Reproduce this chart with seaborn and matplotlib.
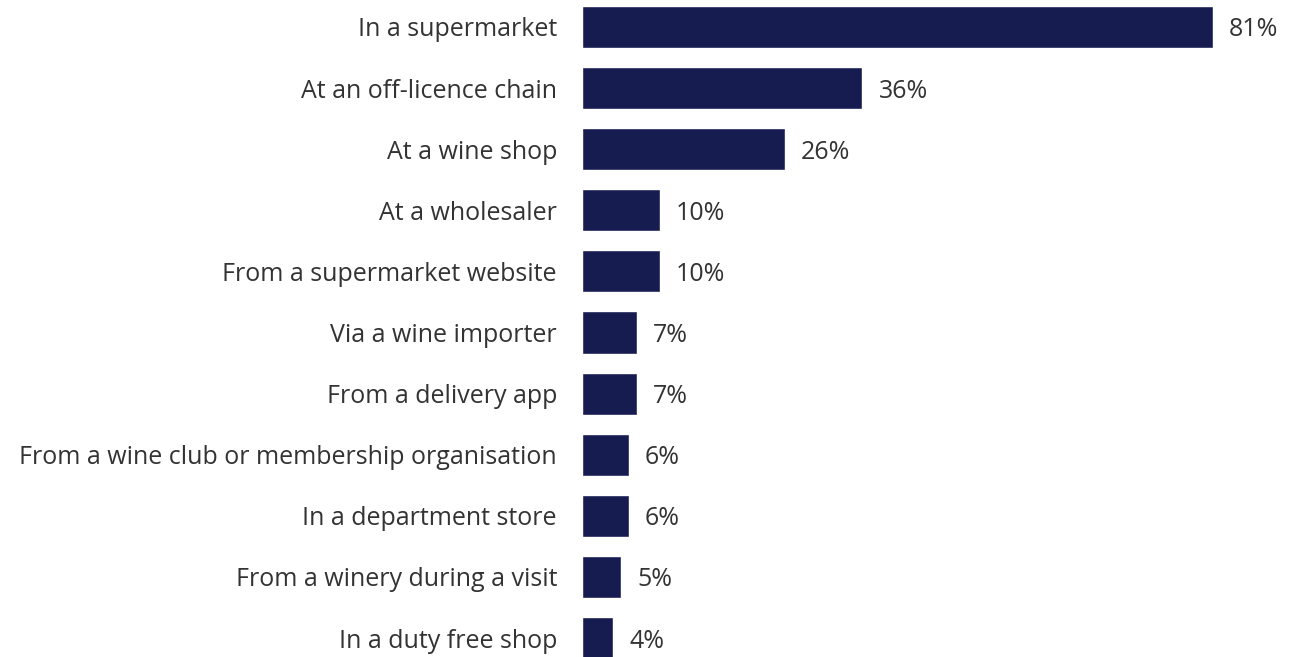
import matplotlib
matplotlib.use("Agg")
import matplotlib.pyplot as plt
import seaborn as sns
import pandas as pd

categories = [
    "In a supermarket",
    "At an off-licence chain",
    "At a wine shop",
    "At a wholesaler",
    "From a supermarket website",
    "Via a wine importer",
    "From a delivery app",
    "From a wine club or membership organisation",
    "In a department store",
    "From a winery during a visit",
    "In a duty free shop",
]
shares = [81, 36, 26, 10, 10, 7, 7, 6, 6, 5, 4]

df = pd.DataFrame({"channel": categories, "share": shares})

sns.set_theme(style="white")
plt.rcParams["font.family"] = ["Open Sans", "DejaVu Sans"]

W, H, DPI = 1302, 657, 100
fig = plt.figure(figsize=(W / DPI, H / DPI), dpi=DPI)

left_px = 582
px_per_unit = 7.79
xmax = (W - left_px) / px_per_unit
ax = fig.add_axes([left_px / W, 0, 1 - left_px / W, 1])

bar_color = "#171c50"
text_color = "#333333"

sns.barplot(data=df, x="share", y="channel", orient="h", color=bar_color,
            width=0.69, saturation=1, ax=ax)

pitch = 61.1
first_center = 27
ax.set_ylim((H - first_center) / pitch, -first_center / pitch)
ax.set_xlim(0, xmax)

for i, v in enumerate(shares):
    ax.text(v + 16 / px_per_unit, i, f"{v}%", va="center_baseline", ha="left",
            fontsize=18, color=text_color)

ax.set_xlabel("")
ax.set_ylabel("")
ax.set_xticks([])
ax.tick_params(axis="y", length=0, pad=18, labelsize=18, labelcolor=text_color)
for lbl in ax.get_yticklabels():
    lbl.set_verticalalignment("center_baseline")
for s in ax.spines.values():
    s.set_visible(False)

fig.savefig("out.png", dpi=DPI)
